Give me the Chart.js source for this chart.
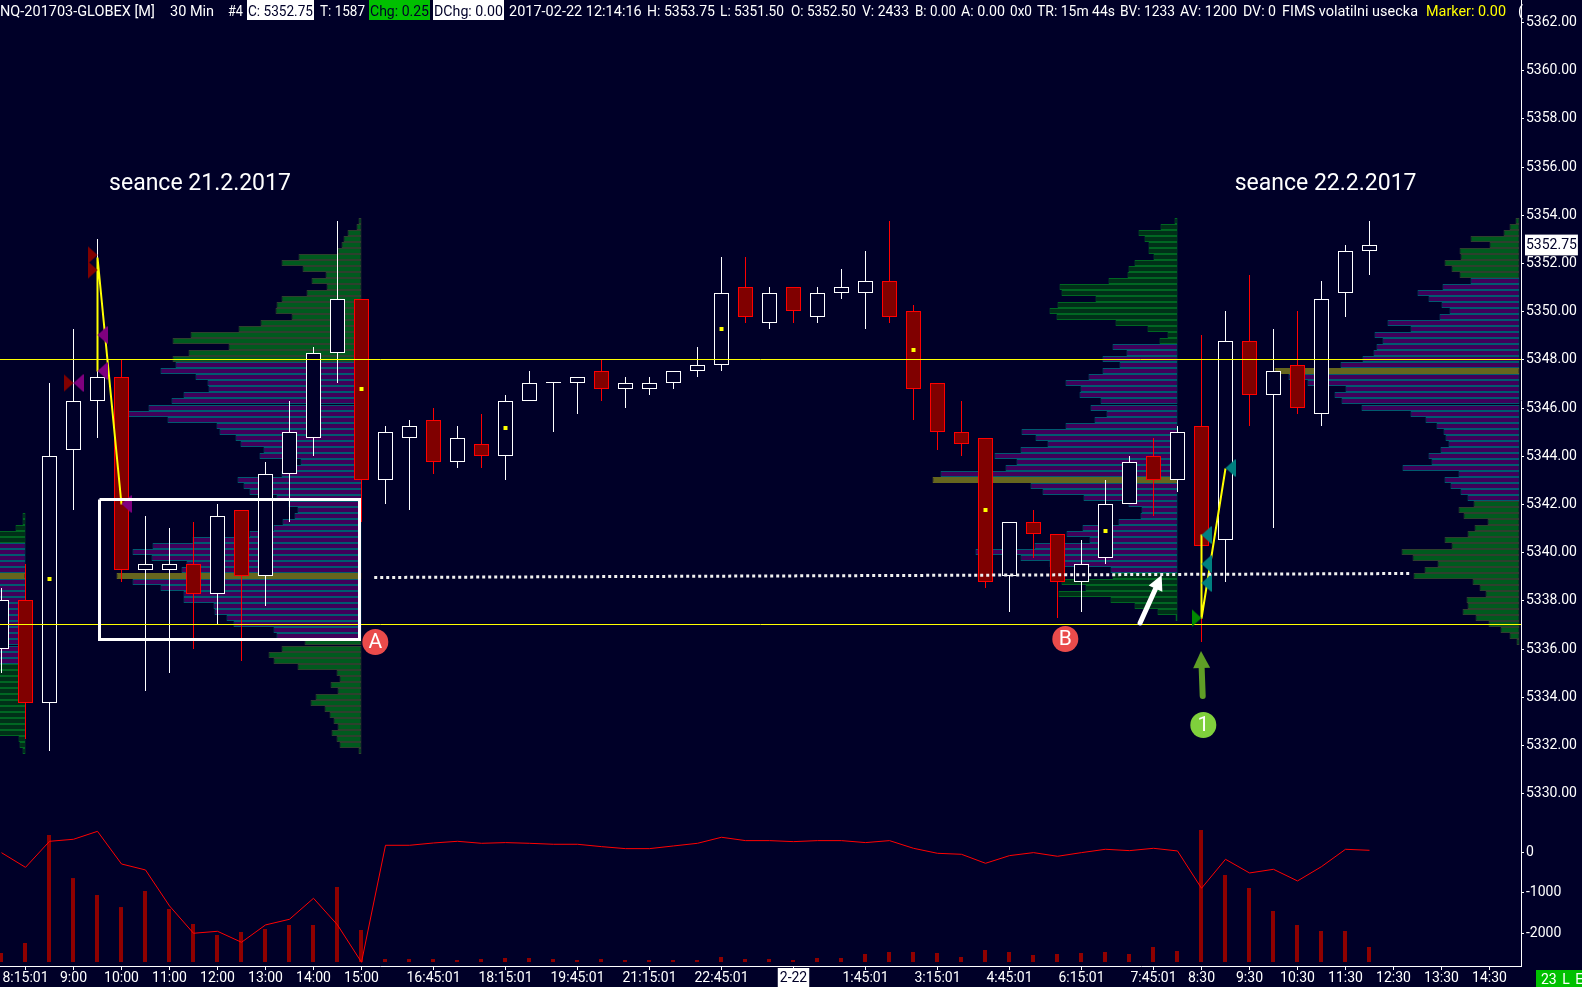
<!DOCTYPE html>
<html>
<head>
<meta charset="utf-8">
<title>NQ-201703-GLOBEX 30 Min</title>
<script src="https://cdn.jsdelivr.net/npm/chart.js@4"></script>
<style>
  html, body { margin: 0; padding: 0; background: #000028; overflow: hidden; }
  canvas { position: absolute; left: 0; display: block; }
  #priceChart { top: 0; }
  #deltaChart { top: 800px; }
</style>
</head>
<body>
<canvas id="priceChart" width="1582" height="800"></canvas>
<canvas id="deltaChart" width="1582" height="187"></canvas>
<script>
var BG = '#000028';
var FONT = 'Roboto';

var candleOpen = [5336,5338,5333.75,5344.25,5346.25,5347.25,5339.25,5339.25,5339.5,5338.25,5341.75,5339,5343.25,5344.75,5348.25,5350.5,5343,5344.75,5345.5,5343.75,5344.5,5344,5346.25,5347,5347,5347.5,5346.75,5346.75,5347,5347.5,5347.75,5351,5349.5,5351,5349.75,5350.75,5350.75,5351.25,5350,5347,5345,5344.75,5339,5341.25,5340.75,5338.75,5339.75,5342,5344,5343,5345.25,5340.5,5348.75,5346.5,5347.75,5345.75,5350.75,5352.5];
var candleHigh = [5338.5,5339.5,5347,5349.25,5353,5348,5341.5,5341,5341.25,5342,5341.75,5343.75,5346.25,5348.5,5353.75,5350.5,5345.25,5345.5,5346,5345.25,5345.75,5346.5,5347.5,5347,5347.25,5348,5347.25,5347.25,5347.5,5348.5,5352.25,5352.25,5351,5351,5351,5351.75,5352.5,5353.75,5350.25,5347,5346.25,5344.75,5341.25,5341.75,5340.75,5340.5,5343,5344,5344.75,5345.25,5349,5350,5351.5,5349.25,5350,5351.25,5352.75,5353.75];
var candleLow = [5335,5332.25,5331.75,5341.75,5344.75,5338.75,5334.25,5335,5336,5337,5335.5,5337.75,5341.25,5344,5347,5341.25,5342,5341.75,5343.25,5343.5,5343.5,5343,5346.25,5345,5345.75,5346.25,5346,5346.5,5346.75,5347.25,5347.5,5349.5,5349.25,5349.5,5349.5,5350.5,5349.25,5349.5,5345.5,5344.25,5344,5338.5,5337.5,5339.75,5337.25,5337.5,5339.5,5342,5341.5,5342.5,5336.25,5338.75,5345.25,5341,5345.75,5345.25,5349.75,5351.5];
var candleClose = [5338,5333.75,5344,5346.25,5347.25,5339.25,5339.5,5339.5,5338.25,5341.5,5339,5343.25,5345,5348.25,5350.5,5343,5345,5345.25,5343.75,5344.75,5344,5346.25,5347,5347,5347.25,5346.75,5347,5347,5347.5,5347.75,5350.75,5349.75,5350.75,5350,5350.75,5351,5351.25,5349.75,5346.75,5345,5344.5,5338.75,5341.25,5340.75,5338.75,5339.5,5342,5343.75,5343,5345,5340.25,5348.75,5346.5,5347.5,5346,5350.5,5352.5,5352.75];

var volume = [1460,3080,20570,13600,10850,8900,11500,8590,6160,4370,4860,5350,5990,5990,12150,5180,490,490,490,320,490,650,650,490,320,490,320,320,320,320,810,490,490,320,650,650,1300,1620,1620,1460,810,1940,1620,1130,1300,1460,1620,1300,2430,1780,21380,14090,11990,8260,5990,5020,5020,2433];
var delta = [-10,-370,270,320,515,-287,-434,-1318,-1990,-1941,-2211,-1785,-1646,-1130,-1785,-2703,172,172,229,270,221,238,221,197,197,139,90,90,156,221,369,287,287,262,287,287,238,287,98,-25,-49,-270,-82,-8,-98,-8,74,41,98,33,-884,-172,-508,-418,-704,-352,74,49];

// volume profile rows, one per 0.25 price step, listed from the top price down
var profile0 = [3,3,10,30,32,40,44,46,50,48,120,52,48,44,40,38,36,36,34,34,32,32,30,30,30,30,30,30,30,30,30,30,30,30,30,30,28,7,6,3];
var profile1 = [3,5,14,18,20,24,63,80,59,36,50,35,55,80,85,86,70,101,123,171,189,133,173,189,186,201,166,154,153,178,190,213,233,194,145,142,126,121,98,102,61,71,80,124,118,112,85,73,64,67,79,88,112,169,209,229,210,175,180,245,229,201,178,178,148,147,135,128,88,85,57,80,93,88,64,25,22,31,24,46,51,37,32,28,24,30,25,22,3];
var profile2 = [3,17,39,33,29,29,24,43,49,50,69,118,116,82,120,128,121,62,30,10,18,65,51,75,58,75,89,112,97,98,77,87,71,83,112,156,142,130,157,183,161,172,237,245,147,135,94,49,36,37,59,95,111,88,143,202,157,128,67,65,116,92,119,67,43,20,2];
var profile3 = [4,10,16,49,30,60,59,75,68,60,49,77,102,91,78,70,80,132,109,145,137,143,146,157,179,245,231,212,174,185,178,158,109,94,83,76,74,71,79,91,88,117,61,75,69,59,52,46,61,56,32,45,52,75,68,118,107,82,95,106,47,40,34,53,52,57,44,31,19,10,3];

var levelPrices = [5348, 5337];
var pullbackDots = [[2,5338.88],[15,5346.77],[21,5345.15],[30,5349.26],[38,5348.39],[41,5341.75],[46,5340.88]];
var zigzagDown = [[4,5347.5],[4,5352.25],[5,5342]];
var zigzagUp = [[50,5340.75],[50,5337.25],[51,5343.5]];
var boxCorners = [[4.083,5342.22],[14.917,5342.22],[14.917,5336.41],[4.083,5336.41],[4.083,5342.22]];
var dottedLine = [[15.53,5338.97],[58.7,5339.14]];

var redTriangles = [[4,5352.33],[4,5351.7],[3,5347]];
var purpleTriangles = [[3,5347],[4,5349],[4,5347.5],[5,5342]];
var tealTriangles = [[51,5343.5],[50,5340.73],[50,5339.49],[50,5338.7]];
var greenTriangles = [[50,5337.27]];

var priceTicks = [5330,5332,5334,5336,5338,5340,5342,5344,5346,5348,5350,5352,5352.75,5354,5356,5358,5360,5362];
var lastPrice = 5352.75;
var deltaTicks = [0,-1000,-2000];
var xTickAt = [1,3,5,7,9,11,13,15,18,21,24,27,30,33,36,39,42,45,48,50,52,54,56,58,60,62];
var xTickText = ['8:15:01','9:00','10:00','11:00','12:00','13:00','14:00','15:00','16:45:01','18:15:01','19:45:01','21:15:01','22:45:01','2-22','1:45:01','3:15:01','4:45:01','6:15:01','7:45:01','8:30','9:30','10:30','11:30','12:30','13:30','14:30'];

// text, left, text width, then box colour and box width where the item has a box
var headerParts = [
  ['NQ-201703-GLOBEX [M]', 0, 161], ['30 Min', 170, 45], ['#4', 228, 15],
  ['C: 5352.75', 248, 65, '#fff', 67], ['T: 1587', 320, 45], ['Chg: 0.25', 370, 59, '#00c000', 61],
  ['DChg: 0.00', 434, 69, '#fff', 71], ['2017-02-22 12:14:16', 509, 133], ['H: 5353.75', 647, 68],
  ['L: 5351.50', 720, 64], ['O: 5352.50', 791, 65], ['V: 2433', 862, 47], ['B: 0.00', 915, 41],
  ['A: 0.00', 961, 44], ['0x0', 1010, 22], ['TR: 15m 44s', 1037, 78], ['BV: 1233', 1120, 55],
  ['AV: 1200', 1180, 57], ['DV: 0', 1243, 33], ['FIMS volatilni usecka', 1282, 136]
];

function pts(list) {
  return list.map(function (p) { return { x: p[0], y: p[1] }; });
}

// some scale contexts carry no tick
function isLast(c) { return !!c.tick && c.tick.value === lastPrice; }
function isDateTick(c) { return !!c.tick && xTickText[xTickAt.indexOf(c.tick.value)] === '2-22'; }

function noScalePadding(s) {
  s.paddingTop = 0; s.paddingBottom = 0; s.paddingLeft = 0; s.paddingRight = 0;
}

// apex of the triangle sits on the data point
function triangle(color, pointsRight) {
  var c = document.createElement('canvas');
  c.width = 20; c.height = 18;
  var g = c.getContext('2d');
  g.fillStyle = color;
  g.beginPath();
  if (pointsRight) { g.moveTo(0, 0); g.lineTo(10, 9); g.lineTo(0, 18); }
  else { g.moveTo(20, 0); g.lineTo(10, 9); g.lineTo(20, 18); }
  g.closePath();
  g.fill();
  return c;
}

function profileDataset(rows, topPrice, rightIndex, vaFirst, vaLast, poc, greenFill, greenEdge) {
  return {
    type: 'bar', indexAxis: 'y', grouped: false, order: 20, barThickness: 6,
    borderWidth: 1, borderSkipped: false, inflateAmount: 0,
    data: rows.map(function (w, r) {
      return { y: topPrice - r * 0.25, x: [rightIndex - w / 24, rightIndex] };
    }),
    backgroundColor: rows.map(function (w, r) {
      if (r === poc) return '#66661e';
      return r >= vaFirst && r <= vaLast ? '#40005a' : greenFill;
    }),
    borderColor: rows.map(function (w, r) {
      if (r === poc) return '#66661e';
      return r >= vaFirst && r <= vaLast ? '#005a70' : greenEdge;
    })
  };
}

function lineDataset(list, color, width, order, dash) {
  return {
    type: 'line', data: pts(list), borderColor: color, borderWidth: width, order: order,
    pointRadius: 0, tension: 0, fill: false, borderDash: dash || []
  };
}

function markerDataset(list, image, order) {
  return { type: 'scatter', data: pts(list), pointStyle: image, pointRadius: 9, order: order, showLine: false };
}

var xMin = -0.0625, xMax = 63.3125;

var candleWicks = {
  type: 'bar', grouped: false, order: 15, barThickness: 1, inflateAmount: 0, borderWidth: 0,
  data: candleOpen.map(function (o, i) { return { x: i, y: [candleLow[i], candleHigh[i]] }; }),
  backgroundColor: candleOpen.map(function (o, i) { return candleClose[i] >= o ? '#ffffff' : '#ff0000'; })
};
var candleBodies = {
  type: 'bar', grouped: false, order: 14, barThickness: 15, inflateAmount: 0,
  borderWidth: 1, borderSkipped: false,
  // a flat candle still needs its hairline
  data: candleOpen.map(function (o, i) {
    return { x: i, y: o === candleClose[i] ? [o, o + 0.04] : [o, candleClose[i]] };
  }),
  backgroundColor: candleOpen.map(function (o, i) { return candleClose[i] >= o ? BG : '#800000'; }),
  borderColor: candleOpen.map(function (o, i) { return candleClose[i] >= o ? '#ffffff' : '#ff0000'; })
};

var priceDatasets = [
  profileDataset(profile0, 5341.5, 1, 5, 24, 10, '#003018', '#006622'),
  profileDataset(profile1, 5353.75, 15, 24, 69, 59, '#005a1e', '#2e402e'),
  profileDataset(profile2, 5353.75, 49, 21, 58, 43, '#003018', '#006622'),
  profileDataset(profile3, 5353.75, 63.25, 10, 46, 25, '#005a1e', '#2e402e'),
  candleWicks,
  candleBodies,
  lineDataset([[xMin, levelPrices[0]], [xMax, levelPrices[0]]], '#ffff00', 1, 10),
  lineDataset([[xMin, levelPrices[1]], [xMax, levelPrices[1]]], '#ffff00', 1, 10),
  { type: 'scatter', data: pts(pullbackDots), pointStyle: 'rect', pointRadius: 2.83, backgroundColor: '#ffff00', borderWidth: 0, order: 9 },
  lineDataset(zigzagDown, '#ffff00', 2, 8),
  lineDataset(zigzagUp, '#ffff00', 2, 8),
  markerDataset(redTriangles, triangle('#800000', true), 7),
  markerDataset(purpleTriangles, triangle('#7f007f', false), 7),
  markerDataset(tealTriangles, triangle('#008080', false), 7),
  markerDataset(greenTriangles, triangle('#008a00', true), 7),
  lineDataset(boxCorners, '#ffffff', 3, 3),
  lineDataset(dottedLine, '#f0f0f0', 3, 2, [3, 3])
];

var deltaDatasets = [
  {
    type: 'line', data: delta.map(function (v, i) { return { x: i, y: v }; }), yAxisID: 'y',
    borderColor: '#ff0000', borderWidth: 1, pointRadius: 0, tension: 0, order: 1
  },
  {
    type: 'bar', grouped: false, yAxisID: 'yv', barThickness: 4, inflateAmount: 0, borderWidth: 0, order: 2,
    data: volume.map(function (v, i) { return { x: i - 1 / 48, y: v }; }),
    backgroundColor: '#8f0000'
  }
];

// the platform draws on whole pixels, so round the price scale the same way
var snapPlugin = {
  id: 'snap',
  beforeDatasetsUpdate: function (chart) {
    var s = chart.scales.y, f = s.getPixelForValue;
    s.getPixelForValue = function (v, i) { return Math.round(f.call(s, v, i)); };
  },
  beforeDatasetDraw: function (chart, args) {
    chart.ctx.save();
    if (args.meta.type === 'line') chart.ctx.translate(0, 0.5);
  },
  afterDatasetDraw: function (chart) {
    chart.ctx.restore();
  }
};

function arrow(ctx, x0, y0, x1, y1, color, shaft, headLen, headWide) {
  var a = Math.atan2(y1 - y0, x1 - x0);
  var bx = x1 - Math.cos(a) * headLen, by = y1 - Math.sin(a) * headLen;
  ctx.strokeStyle = color; ctx.fillStyle = color;
  ctx.lineWidth = shaft; ctx.lineCap = 'round';
  ctx.beginPath(); ctx.moveTo(x0, y0); ctx.lineTo(bx, by); ctx.stroke();
  ctx.beginPath(); ctx.moveTo(x1, y1);
  ctx.lineTo(bx + Math.sin(a) * headWide / 2, by - Math.cos(a) * headWide / 2);
  ctx.lineTo(bx - Math.sin(a) * headWide / 2, by + Math.cos(a) * headWide / 2);
  ctx.closePath(); ctx.fill();
}

function badge(ctx, x, y, color, label) {
  ctx.fillStyle = color;
  ctx.beginPath(); ctx.arc(x, y, 13, 0, Math.PI * 2); ctx.fill();
  ctx.fillStyle = '#fff';
  ctx.font = '21px ' + FONT;
  ctx.textAlign = 'center'; ctx.textBaseline = 'middle';
  ctx.fillText(label, x, y + 1);
}

var notesPlugin = {
  id: 'notes',
  afterDraw: function (chart) {
    var ctx = chart.ctx, X = chart.scales.x, Y = chart.scales.y;
    var px = function (i) { return X.getPixelForValue(i); };
    var py = function (p) { return Y.getPixelForValue(p); };
    ctx.save();

    ctx.fillStyle = '#fff';
    ctx.font = '23px ' + FONT;
    ctx.textAlign = 'center'; ctx.textBaseline = 'middle';
    ctx.fillText('seance 21.2.2017', px(8.27), py(5355.29));
    ctx.fillText('seance 22.2.2017', px(55.17), py(5355.29));

    arrow(ctx, px(47.44), py(5337.06), px(48.34), py(5339.05), '#ffffff', 5, 15, 15);
    arrow(ctx, px(50.05), py(5334.03), px(49.98), py(5335.9), '#5f9e26', 6, 17, 17);
    badge(ctx, px(15.575), py(5336.26), '#ea4b4b', 'A');
    badge(ctx, px(44.325), py(5336.38), '#ea4b4b', 'B');
    badge(ctx, px(50.075), py(5332.81), '#7fd03c', '1');

    ctx.font = '14.5px ' + FONT;
    ctx.textAlign = 'left'; ctx.textBaseline = 'alphabetic';
    headerParts.forEach(function (h) {
      if (h[3]) { ctx.fillStyle = h[3]; ctx.fillRect(h[1] - 1, 0, h[4], 20); }
      ctx.fillStyle = h[3] ? '#000028' : '#ffffff';
      ctx.fillText(h[0], h[1], 16, h[2]);
    });
    ctx.fillStyle = '#ffff00';
    ctx.fillText('Marker: 0.00', 1426, 16, 80);
    ctx.fillStyle = '#ffffff';
    ctx.fillText('(', 1518, 16);
    ctx.restore();
  }
};

var stockPanel = new Chart(document.getElementById('priceChart'), {
  data: { datasets: priceDatasets },
  plugins: [snapPlugin, notesPlugin],
  options: {
    responsive: false, animation: false, devicePixelRatio: 1, events: [],
    layout: { padding: 0, autoPadding: false },
    plugins: { legend: { display: false }, tooltip: { enabled: false } },
    scales: {
      x: { type: 'linear', display: false, min: xMin, max: xMax, offset: false, grid: { offset: false } },
      y: {
        type: 'linear', position: 'right', min: 5329.714, max: 5362.909, offset: false,
        afterFit: function (s) { s.width = 61; noScalePadding(s); },
        afterBuildTicks: function (s) { s.ticks = priceTicks.map(function (v) { return { value: v }; }); },
        border: { display: true, color: '#ffffff' },
        grid: {
          offset: false, drawOnChartArea: false, tickLength: 3,
          tickColor: function (c) { return isLast(c) ? 'transparent' : '#ffffff'; }
        },
        ticks: {
          autoSkip: false, padding: 2,
          font: { family: FONT, size: 14 },
          color: function (c) { return isLast(c) ? '#000028' : '#ffffff'; },
          showLabelBackdrop: isLast,
          backdropColor: '#ffffff', backdropPadding: { top: 2, bottom: 2, left: 1, right: 1 },
          callback: function (v) { return v.toFixed(2); }
        }
      }
    }
  }
});

var deltaPanel = new Chart(document.getElementById('deltaChart'), {
  data: { datasets: deltaDatasets },
  options: {
    responsive: false, animation: false, devicePixelRatio: 1, events: [],
    layout: { padding: 0, autoPadding: false },
    plugins: { legend: { display: false }, tooltip: { enabled: false } },
    scales: {
      x: {
        type: 'linear', min: xMin, max: xMax, offset: false,
        afterFit: function (s) { s.height = 21; noScalePadding(s); },
        afterBuildTicks: function (s) { s.ticks = xTickAt.map(function (v) { return { value: v }; }); },
        border: { display: true, color: '#ffffff' },
        grid: { offset: false, drawOnChartArea: false, tickLength: 4, tickColor: '#ffffff' },
        ticks: {
          autoSkip: false, maxRotation: 0, minRotation: 0, padding: 0,
          font: { family: FONT, size: 14 },
          color: function (c) { return isDateTick(c) ? '#000028' : '#ffffff'; },
          showLabelBackdrop: isDateTick,
          backdropColor: '#ffffff', backdropPadding: 2,
          callback: function (v) { return xTickText[xTickAt.indexOf(v)]; }
        }
      },
      y: {
        type: 'linear', position: 'right', min: -2794, max: 1285,
        afterFit: function (s) { s.width = 61; noScalePadding(s); },
        afterBuildTicks: function (s) { s.ticks = deltaTicks.map(function (v) { return { value: v }; }); },
        border: { display: true, color: '#ffffff' },
        grid: { drawOnChartArea: false, tickLength: 3, tickColor: '#ffffff' },
        ticks: {
          autoSkip: false, padding: 2,
          font: { family: FONT, size: 14 }, color: '#ffffff',
          callback: function (v) { return String(v); }
        }
      },
      yv: { type: 'linear', display: false, min: -648, max: 26244 }
    }
  },
  plugins: [{
    id: 'stateBox',
    afterDraw: function (chart) {
      var ctx = chart.ctx;
      ctx.save();
      ctx.fillStyle = '#00c000';
      ctx.fillRect(1536, 170, 46, 17);
      ctx.fillStyle = '#ffffff';
      ctx.font = '14px ' + FONT;
      ctx.textBaseline = 'alphabetic';
      ctx.wordSpacing = '2px';
      ctx.fillText('23 L E', 1541, 184);
      ctx.restore();
    }
  }]
});
</script>
</body>
</html>
